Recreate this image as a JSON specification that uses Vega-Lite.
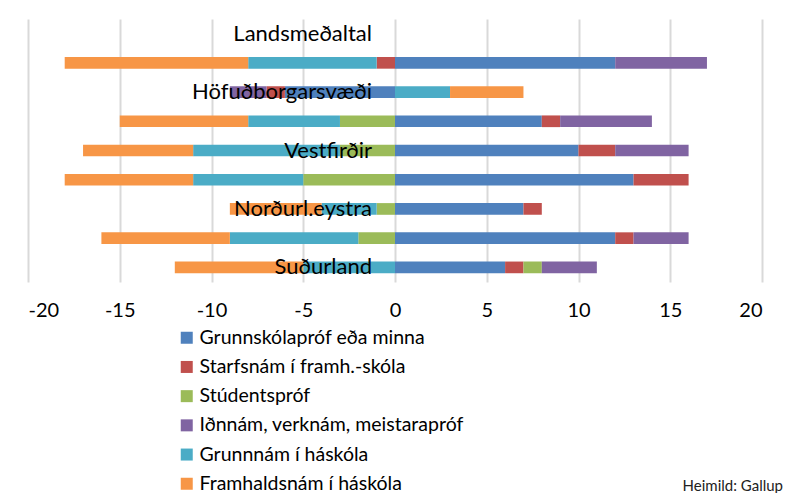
{
  "$schema": "https://vega.github.io/schema/vega-lite/v6.json",
  "width": 734,
  "height": 263,
  "autosize": "none",
  "padding": {"left": 28, "top": 19, "right": 25, "bottom": 211},
  "background": "white",
  "title": {"text": "Heimild: Gallup", "orient": "bottom", "anchor": "end", "fontSize": 15, "fontWeight": "normal", "font": "Lato", "color": "#222222", "offset": -15, "dx": 21},
  "config": {
    "view": {"stroke": null},
    "font": "Lato"
  },
  "datasets": {
    "bars": [
      {"row": "r1", "cat": "Grunnskólapróf eða minna", "v": 12},
      {"row": "r1", "cat": "Starfsnám í framh.-skóla", "v": -1},
      {"row": "r1", "cat": "Iðnnám, verknám, meistarapróf", "v": 5},
      {"row": "r1", "cat": "Grunnnám í háskóla", "v": -7},
      {"row": "r1", "cat": "Framhaldsnám í háskóla", "v": -10},
      {"row": "r2", "cat": "Grunnskólapróf eða minna", "v": -6},
      {"row": "r2", "cat": "Starfsnám í framh.-skóla", "v": -1},
      {"row": "r2", "cat": "Iðnnám, verknám, meistarapróf", "v": -2},
      {"row": "r2", "cat": "Grunnnám í háskóla", "v": 3},
      {"row": "r2", "cat": "Framhaldsnám í háskóla", "v": 4},
      {"row": "r3", "cat": "Grunnskólapróf eða minna", "v": 8},
      {"row": "r3", "cat": "Starfsnám í framh.-skóla", "v": 1},
      {"row": "r3", "cat": "Stúdentspróf", "v": -3},
      {"row": "r3", "cat": "Iðnnám, verknám, meistarapróf", "v": 5},
      {"row": "r3", "cat": "Grunnnám í háskóla", "v": -5},
      {"row": "r3", "cat": "Framhaldsnám í háskóla", "v": -7},
      {"row": "r4", "cat": "Grunnskólapróf eða minna", "v": 10},
      {"row": "r4", "cat": "Starfsnám í framh.-skóla", "v": 2},
      {"row": "r4", "cat": "Stúdentspróf", "v": -3},
      {"row": "r4", "cat": "Iðnnám, verknám, meistarapróf", "v": 4},
      {"row": "r4", "cat": "Grunnnám í háskóla", "v": -8},
      {"row": "r4", "cat": "Framhaldsnám í háskóla", "v": -6},
      {"row": "r5", "cat": "Grunnskólapróf eða minna", "v": 13},
      {"row": "r5", "cat": "Starfsnám í framh.-skóla", "v": 3},
      {"row": "r5", "cat": "Stúdentspróf", "v": -5},
      {"row": "r5", "cat": "Grunnnám í háskóla", "v": -6},
      {"row": "r5", "cat": "Framhaldsnám í háskóla", "v": -7},
      {"row": "r6", "cat": "Grunnskólapróf eða minna", "v": 7},
      {"row": "r6", "cat": "Starfsnám í framh.-skóla", "v": 1},
      {"row": "r6", "cat": "Stúdentspróf", "v": -1},
      {"row": "r6", "cat": "Grunnnám í háskóla", "v": -3},
      {"row": "r6", "cat": "Framhaldsnám í háskóla", "v": -5},
      {"row": "r7", "cat": "Grunnskólapróf eða minna", "v": 12},
      {"row": "r7", "cat": "Starfsnám í framh.-skóla", "v": 1},
      {"row": "r7", "cat": "Stúdentspróf", "v": -2},
      {"row": "r7", "cat": "Iðnnám, verknám, meistarapróf", "v": 3},
      {"row": "r7", "cat": "Grunnnám í háskóla", "v": -7},
      {"row": "r7", "cat": "Framhaldsnám í háskóla", "v": -7},
      {"row": "r8", "cat": "Grunnskólapróf eða minna", "v": 6},
      {"row": "r8", "cat": "Starfsnám í framh.-skóla", "v": 1},
      {"row": "r8", "cat": "Stúdentspróf", "v": 1},
      {"row": "r8", "cat": "Iðnnám, verknám, meistarapróf", "v": 3},
      {"row": "r8", "cat": "Grunnnám í háskóla", "v": -5},
      {"row": "r8", "cat": "Framhaldsnám í háskóla", "v": -7}
    ],
    "labels": [
      {"row": "r0", "label": "Landsmeðaltal"},
      {"row": "r2", "label": "Höfuðborgarsvæði"},
      {"row": "r4", "label": "Vestfirðir"},
      {"row": "r6", "label": "Norðurl.eystra"},
      {"row": "r8", "label": "Suðurland"}
    ]
  },
  "layer": [
    {
      "data": {"name": "bars"},
      "transform": [
        {"calculate": "indexof(['Grunnskólapróf eða minna','Starfsnám í framh.-skóla','Stúdentspróf','Iðnnám, verknám, meistarapróf','Grunnnám í háskóla','Framhaldsnám í háskóla'], datum.cat)", "as": "k"}
      ],
      "mark": {"type": "bar"},
      "encoding": {
        "y": {
          "field": "row", "type": "ordinal",
          "scale": {"domain": ["r0","r1","r2","r3","r4","r5","r6","r7","r8"], "paddingInner": 0.6, "paddingOuter": 0.3},
          "axis": null
        },
        "x": {
          "field": "v", "type": "quantitative", "stack": "zero",
          "scale": {"domain": [-20, 20], "nice": false},
          "axis": {
            "values": [-20, -15, -10, -5, 0, 5, 10, 15, 20],
            "labelExpr": "datum.value < 0 ? '-' + abs(datum.value) : '' + datum.value",
            "title": null, "domain": false, "ticks": false,
            "grid": true, "gridColor": "#d9d9d9", "gridWidth": 2,
            "labelFontSize": 20, "labelColor": "#000000", "labelPadding": 18, "labelFont": "Lato"
          }
        },
        "color": {
          "field": "cat", "type": "nominal",
          "scale": {
            "domain": ["Grunnskólapróf eða minna","Starfsnám í framh.-skóla","Stúdentspróf","Iðnnám, verknám, meistarapróf","Grunnnám í háskóla","Framhaldsnám í háskóla"],
            "range": ["#4F81BD","#C0504D","#9BBB59","#8064A2","#4BACC6","#F79646"]
          },
          "legend": {
            "orient": "none", "legendX": 149, "legendY": 309, "title": null,
            "direction": "vertical",
            "symbolType": "square", "symbolSize": 144, "symbolStrokeWidth": 0,
            "labelFontSize": 19.5, "labelFont": "Lato", "labelColor": "#000000",
            "labelOffset": 3, "rowPadding": 8.2, "labelLimit": 400
          }
        },
        "order": {"field": "k", "type": "quantitative"}
      }
    },
    {
      "data": {"name": "labels"},
      "mark": {"type": "text", "align": "right", "baseline": "middle", "fontSize": 22, "font": "Lato", "color": "#000000", "dx": -23},
      "encoding": {
        "y": {"field": "row", "type": "ordinal"},
        "x": {"datum": 0, "type": "quantitative"},
        "text": {"field": "label"}
      }
    }
  ]
}
